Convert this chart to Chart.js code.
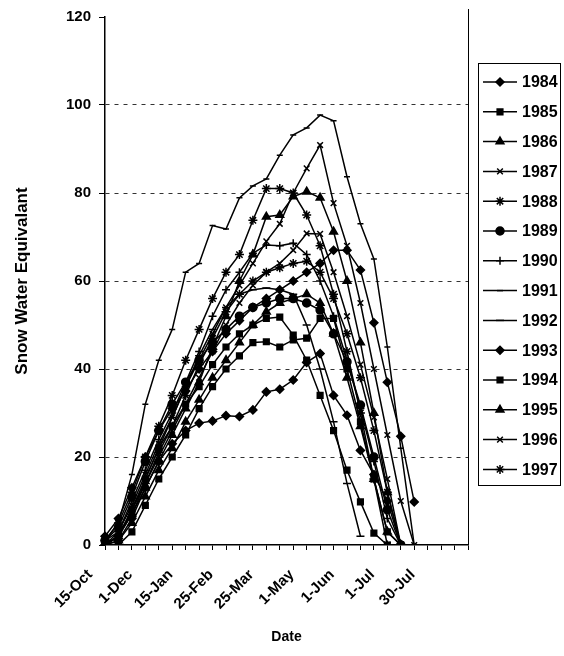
<!DOCTYPE html>
<html>
<head>
<meta charset="utf-8">
<script src="https://cdn.jsdelivr.net/npm/chart.js"></script>
<style>
  html, body { margin: 0; padding: 0; background: #fff; }
  #wrap { position: relative; width: 564px; height: 656px; }
</style>
</head>
<body>
<div id="wrap"><canvas id="myChart"></canvas></div>
<script>
// category dates (only every third one is labelled on the axis)
var dates = ['15-Oct', '1-Nov', '15-Nov', '1-Dec', '15-Dec', '1-Jan', '15-Jan', '1-Feb', '15-Feb',
    '25-Feb', '1-Mar', '15-Mar', '25-Mar', '1-Apr', '15-Apr', '1-May', '15-May', '25-May',
    '1-Jun', '15-Jun', '25-Jun', '1-Jul', '15-Jul', '25-Jul', '30-Jul', '', '', ''];

var years = ['1984', '1985', '1986', '1987', '1988', '1989', '1990',
    '1991', '1992', '1993', '1994', '1995', '1996', '1997'];

// snow water equivalent per year
var swe1984 = [0, 1, 6, 13, 19, 23, 26, 27.7, 28.2, 29.4, 29.2, 30.7, 34.8, 35.4, 37.5, 41.5, 43.5, 34, 29.5, 21.5, 16, 10, 0];
var swe1985 = [0, 0, 3, 9, 15, 20, 25, 31, 36, 40, 43, 46, 46.2, 45, 46.6, 47, 51.5, 51.5, 40, 28, 15, 3, 0];
var swe1986 = [0, 2, 7, 13, 19, 25, 31, 37, 45, 52, 60, 66, 74.6, 75, 79.2, 80.3, 78.9, 71.2, 60, 46, 30, 12, 0];
var swe1987 = [1, 3, 9, 16, 23, 29, 36, 42, 48, 54, 59, 64, 69, 73, 80, 85.6, 90.9, 77.7, 68, 55, 40, 25, 10, 0];
var swe1988 = [1, 5, 12, 20, 27, 34, 42, 49, 56, 62, 66, 73.8, 81, 81, 80, 75, 68, 57, 44, 30, 15, 0];
var swe1989 = [1, 4, 11, 19, 26, 32, 37, 42, 46, 49, 52, 54, 55, 56, 56, 55, 53.4, 48, 41.6, 31.8, 20, 8, 0];
var swe1990 = [0, 3, 10, 17, 24, 30, 37, 44, 52, 58, 62, 66.3, 68.2, 68, 68.6, 66, 60, 52, 42, 31, 19, 6, 0];
var swe1991 = [1, 5, 16, 32, 42, 49, 62, 64, 72.6, 71.8, 78.9, 81.6, 83.2, 88.6, 93.2, 94.8, 97.7, 96.4, 83.7, 73, 65, 45, 22, 0];
var swe1992 = [0, 2, 8, 15, 22, 29, 36, 43, 49, 54, 57, 58, 58.4, 58, 57, 50, 40, 28, 14, 2];
var swe1993 = [2, 6, 13, 20, 26, 31, 35, 40, 44, 48, 51, 54, 56, 58, 60, 62, 64, 67, 67, 62.5, 50.5, 37, 24.7, 9.8];
var swe1994 = [0, 2, 8, 15, 22, 27, 32, 36, 41, 45, 48, 50, 51.5, 51.8, 47.7, 42, 34, 26, 17, 9.8, 2.7, 0];
var swe1995 = [0, 1, 5, 11, 17, 22, 28, 33, 38, 42, 46, 50, 53, 55, 56, 57, 55, 48, 38, 27, 15, 3, 0];
var swe1996 = [0, 2, 8, 14, 20, 26, 32, 38, 44, 50, 55, 59, 62, 64, 67, 70.8, 70.7, 62, 52, 41, 29, 15, 0];
var swe1997 = [0, 2, 7, 14, 21, 27, 34, 41, 47, 53, 57, 60, 62, 63, 64, 64.5, 62, 56, 48, 38, 26, 12, 0];

var seriesValues = [swe1984, swe1985, swe1986, swe1987, swe1988, swe1989, swe1990,
    swe1991, swe1992, swe1993, swe1994, swe1995, swe1996, swe1997];

var markers = ['rectRot', 'rect', 'triangle', 'crossRot', 'star', 'circle', 'cross',
    'line', 'line', 'rectRot', 'rect', 'triangle', 'crossRot', 'star'];
var markerSizes = [4, 4, 4.5, 4, 4.5, 4, 4, 3, 4, 4, 4, 4.5, 4, 4.5];

var yMin = 0, yMax = 120, yStep = 20;

var FONT = 'Arial, "Liberation Sans", sans-serif';

var datasets = years.map(function (y, i) {
    return {
        label: y,
        data: seriesValues[i],
        borderColor: '#000',
        backgroundColor: '#000',
        borderWidth: 1.5,
        pointStyle: markers[i],
        pointRadius: markerSizes[i],
        pointBorderWidth: 1.5,
        pointBackgroundColor: '#000',
        pointBorderColor: '#000',
        tension: 0,
        fill: false
    };
});

// legend box drawn by hand, Excel style (line with marker through it)
var boxLegend = {
    id: 'boxLegend',
    afterDraw: function (chart) {
        var ctx = chart.ctx;
        var area = chart.chartArea;
        ctx.save();
        ctx.strokeStyle = '#000';
        ctx.lineWidth = 1;
        // right border of the plot area
        ctx.beginPath();
        ctx.moveTo(area.right + 0.5, area.top - 8);
        ctx.lineTo(area.right + 0.5, area.bottom);
        ctx.stroke();

        var left = 478, top = 63, w = 82, h = 422;
        ctx.strokeRect(left + 0.5, top + 0.5, w, h);

        ctx.font = 'bold 16px ' + FONT;
        ctx.textBaseline = 'middle';
        ctx.textAlign = 'left';
        chart.data.datasets.forEach(function (ds, i) {
            var y = 82 + i * 29.8;
            ctx.strokeStyle = '#000';
            ctx.lineWidth = 1.5;
            ctx.beginPath();
            ctx.moveTo(483, y);
            ctx.lineTo(517, y);
            ctx.stroke();
            ctx.fillStyle = '#000';
            Chart.helpers.drawPoint(ctx, {
                pointStyle: ds.pointStyle,
                radius: ds.pointRadius,
                rotation: 0,
                borderWidth: 1.5
            }, 500, y);
            ctx.fillStyle = '#000';
            ctx.fillText(ds.label, 522, y + 1);
        });
        ctx.restore();
    }
};

var ctx = document.getElementById('myChart').getContext('2d');

var myChart = new Chart(ctx, {
    type: 'line',
    data: { labels: dates, datasets: datasets },
    options: {
        responsive: true,
        maintainAspectRatio: false,
        animation: false,
        layout: { padding: { top: 17, right: 96, left: 0, bottom: 0 } },
        plugins: {
            legend: { display: false },
            tooltip: { enabled: false }
        },
        scales: {
            x: {
                afterFit: function (scale) { scale.height = 111; },
                offset: false,
                border: { color: '#000', width: 1.5 },
                grid: { drawOnChartArea: false, drawTicks: true, tickLength: 5, color: '#000' },
                ticks: {
                    autoSkip: false,
                    minRotation: 45,
                    maxRotation: 45,
                    labelOffset: -15,
                    padding: 16,
                    color: '#000',
                    font: { family: FONT, size: 15, weight: 'bold' },
                    callback: function (val, i) {
                        return i % 3 === 0 ? this.getLabelForValue(val) : '';
                    }
                },
                title: {
                    display: true,
                    text: 'Date',
                    color: '#000',
                    font: { family: FONT, size: 14, weight: 'bold' },
                    padding: { top: 0, bottom: 10 }
                }
            },
            y: {
                afterFit: function (scale) { scale.width = 105; },
                min: yMin,
                max: yMax,
                border: { color: '#000', width: 1.5, dash: [4, 5] },
                grid: {
                    color: function (c) {
                        var v = c.tick ? c.tick.value : null;
                        return (v === yMin || v === yMax) ? 'rgba(0,0,0,0)' : '#333';
                    },
                    tickColor: '#000',
                    tickLength: 6,
                    lineWidth: 1
                },
                ticks: {
                    stepSize: yStep,
                    color: '#000',
                    padding: 8,
                    font: { family: FONT, size: 15, weight: 'bold' }
                },
                title: {
                    display: true,
                    text: 'Snow Water Equivalant',
                    color: '#000',
                    font: { family: FONT, size: 17, weight: 'bold' },
                    padding: { top: 12, bottom: 0 }
                }
            }
        }
    },
    plugins: [boxLegend]
});
</script>
</body>
</html>
